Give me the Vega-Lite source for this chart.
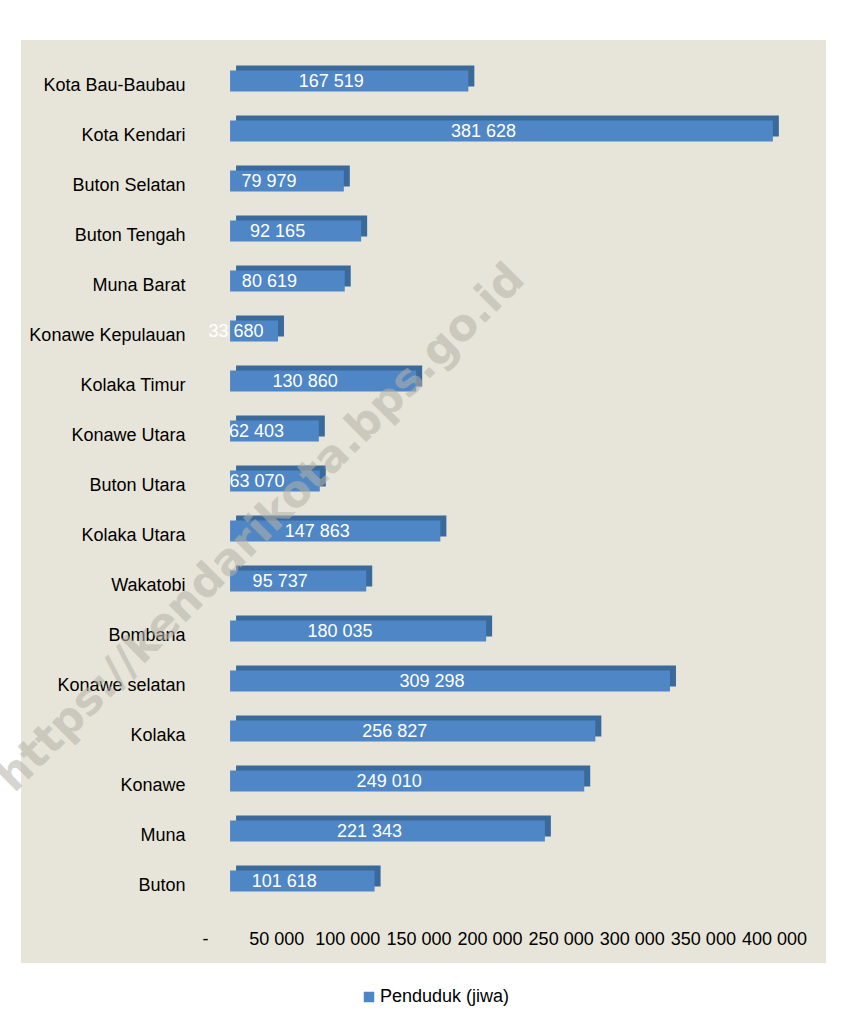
{
  "$schema": "https://vega.github.io/schema/vega-lite/v6.json",
  "autosize": {"type": "none"},
  "padding": {"left": 21, "top": 40, "right": 33, "bottom": 64},
  "width": 805,
  "height": 923,
  "background": "#ffffff",
  "config": {
    "view": {"fill": "#E7E5D9", "stroke": null},
    "font": "Liberation Sans"
  },
  "datasets": {
    "pop": [
      {"region": "Kota Bau-Baubau", "value": 167519},
      {"region": "Kota Kendari", "value": 381628},
      {"region": "Buton Selatan", "value": 79979},
      {"region": "Buton Tengah", "value": 92165},
      {"region": "Muna Barat", "value": 80619},
      {"region": "Konawe Kepulauan", "value": 33680},
      {"region": "Kolaka Timur", "value": 130860},
      {"region": "Konawe Utara", "value": 62403},
      {"region": "Buton Utara", "value": 63070},
      {"region": "Kolaka Utara", "value": 147863},
      {"region": "Wakatobi", "value": 95737},
      {"region": "Bombana", "value": 180035},
      {"region": "Konawe selatan", "value": 309298},
      {"region": "Kolaka", "value": 256827},
      {"region": "Konawe", "value": 249010},
      {"region": "Muna", "value": 221343},
      {"region": "Buton", "value": 101618}
    ],
    "mark": [
      {"region": "Kolaka Utara", "value": 24000, "text": "https://kendarikota.bps.go.id"}
    ]
  },
  "encoding": {
    "y": {
      "field": "region",
      "type": "nominal",
      "scale": {
        "domain": ["Kota Bau-Baubau", "Kota Kendari", "Buton Selatan", "Buton Tengah", "Muna Barat", "Konawe Kepulauan", "Kolaka Timur", "Konawe Utara", "Buton Utara", "Kolaka Utara", "Wakatobi", "Bombana", "Konawe selatan", "Kolaka", "Konawe", "Muna", "Buton"],
        "paddingInner": 0,
        "paddingOuter": 0.73,
        "align": 0.22
      },
      "axis": {
        "title": null,
        "orient": "left",
        "offset": -168,
        "labelPadding": 4,
        "ticks": false,
        "domain": false,
        "grid": false,
        "labelFontSize": 18,
        "labelColor": "#000000",
        "labelFont": "Liberation Sans",
        "labelOffset": 5
      }
    }
  },
  "layer": [
    {
      "data": {"name": "pop"},
      "mark": {"type": "bar", "size": 21, "color": "#3A6A9C", "xOffset": 6, "x2Offset": 6, "yOffset": -5},
      "encoding": {
        "x": {
          "field": "value",
          "type": "quantitative",
          "scale": {"domain": [-147000, 419000], "nice": false, "zero": false},
          "axis": {
            "title": null,
            "orient": "bottom",
            "values": [0, 50000, 100000, 150000, 200000, 250000, 300000, 350000, 400000],
            "labelExpr": "datum.value == 0 ? '-' : replace(format(datum.value, ','), ',', ' ')",
            "offset": -33,
            "labelPadding": 0,
            "ticks": false,
            "domain": false,
            "grid": false,
            "labelFontSize": 18,
            "labelColor": "#000000",
            "labelFont": "Liberation Sans",
            "labelOffset": -25,
            "labelFlush": false,
            "labelOverlap": false
          }
        },
        "x2": {"datum": 0}
      }
    },
    {
      "data": {"name": "pop"},
      "mark": {"type": "bar", "size": 21},
      "encoding": {
        "x": {"field": "value", "type": "quantitative"},
        "x2": {"datum": 0},
        "color": {
          "datum": "Penduduk (jiwa)",
          "type": "nominal",
          "scale": {"range": ["#4F86C6"]},
          "legend": {
            "title": null,
            "orient": "none",
            "legendX": 339,
            "legendY": 948,
            "symbolType": "square",
            "symbolSize": 110,
            "symbolStrokeWidth": 0,
            "labelFontSize": 18,
            "labelColor": "#000000",
            "labelFont": "Liberation Sans",
            "labelOffset": 2
          }
        }
      }
    },
    {
      "data": {"name": "pop"},
      "transform": [
        {"calculate": "datum.value / 2", "as": "mid"},
        {"calculate": "replace(format(datum.value, ','), ',', ' ')", "as": "label"}
      ],
      "mark": {"type": "text", "color": "#ffffff", "fontSize": 18, "font": "Liberation Sans", "dx": -18, "dy": 1, "baseline": "middle", "align": "center"},
      "encoding": {
        "x": {"field": "mid", "type": "quantitative"},
        "text": {"field": "label"}
      }
    },
    {
      "data": {"name": "mark"},
      "mark": {"type": "text", "color": "#B5B2A8", "opacity": 0.55, "fontSize": 44, "fontWeight": "bold", "font": "DejaVu Sans", "angle": -45, "align": "center", "baseline": "middle", "dy": -4},
      "encoding": {
        "x": {"field": "value", "type": "quantitative"},
        "text": {"field": "text"}
      }
    }
  ]
}
